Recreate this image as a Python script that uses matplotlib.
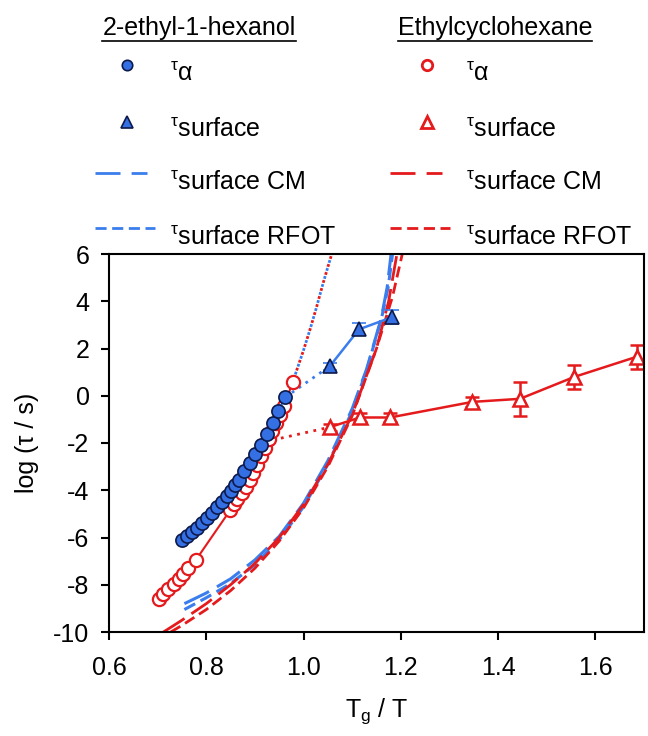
import matplotlib
matplotlib.use("Agg")
import matplotlib.pyplot as plt
from matplotlib.lines import Line2D

plt.rcParams["font.family"] = ["Liberation Sans", "DejaVu Sans"]
plt.rcParams["mathtext.fontset"] = "custom"
plt.rcParams["mathtext.rm"] = "Liberation Sans"
plt.rcParams["mathtext.it"] = "Liberation Sans"
plt.rcParams["mathtext.default"] = "regular"
plt.rcParams["axes.unicode_minus"] = False

BLUE = "#3470e4"
BLUE_EDGE = "#0d1a4a"
BLUE_LINE = "#3b7ded"
RED = "#e41a1c"

# 2-ethyl-1-hexanol, tau_alpha
eh_x = [0.750, 0.760, 0.770, 0.781, 0.791, 0.801, 0.812, 0.822, 0.832, 0.842,
        0.851, 0.859, 0.868, 0.878, 0.890, 0.900, 0.912, 0.924, 0.937, 0.948, 0.962]
eh_y = [-6.12, -5.95, -5.77, -5.58, -5.38, -5.16, -4.95, -4.71, -4.50, -4.25,
        -4.04, -3.79, -3.58, -3.19, -2.84, -2.47, -2.09, -1.63, -1.15, -0.64, -0.07]

# ethylcyclohexane, tau_alpha
ech_x = [0.702, 0.712, 0.722, 0.733, 0.743, 0.753, 0.763, 0.779,
         0.849, 0.856, 0.864, 0.873, 0.881, 0.889, 0.897, 0.904,
         0.912, 0.920, 0.928, 0.936, 0.944, 0.952, 0.960, 0.978]
ech_y = [-8.59, -8.38, -8.17, -7.95, -7.74, -7.53, -7.28, -6.94,
         -4.85, -4.59, -4.35, -4.11, -3.86, -3.58, -3.29, -2.94,
         -2.55, -2.20, -1.85, -1.50, -1.15, -0.80, -0.45, 0.60]

# tau_surface, 2-ethyl-1-hexanol
eh_s_x = [1.054, 1.114, 1.181]
eh_s_y = [1.25, 2.81, 3.32]
eh_s_err = [0.15, 0.25, 0.30]

# tau_surface, ethylcyclohexane
ech_s_x = [1.054, 1.116, 1.178, 1.347, 1.445, 1.557, 1.685]
ech_s_y = [-1.33, -0.92, -0.92, -0.26, -0.13, 0.80, 1.65]
ech_s_err = [0.15, 0.20, 0.20, 0.20, 0.72, 0.50, 0.50]

# extrapolated tau_alpha (dotted)
vft_x = [0.975, 0.986, 1.000, 1.014, 1.027, 1.040, 1.050, 1.058]
vft_y = [0.40, 1.08, 1.93, 2.85, 3.77, 4.75, 5.45, 6.00]

# model curves
eh_cm_x = [0.755, 0.800, 0.850, 0.900, 0.950, 1.000, 1.050, 1.100, 1.130, 1.160, 1.172, 1.180]
eh_cm_y = [-8.80, -8.35, -7.75, -6.95, -5.95, -4.55, -2.75, -0.55, 1.15, 3.30, 4.60, 6.00]
eh_rf_x = [0.755, 0.800, 0.850, 0.900, 0.950, 1.000, 1.050, 1.100, 1.130, 1.160, 1.174, 1.183]
eh_rf_y = [-9.05, -8.55, -7.95, -7.15, -6.10, -4.70, -2.90, -0.65, 1.10, 3.25, 4.60, 6.00]
ech_cm_x = [0.712, 0.750, 0.800, 0.850, 0.900, 0.950, 1.000, 1.050, 1.100, 1.150, 1.175, 1.192]
ech_cm_y = [-10.00, -9.50, -8.80, -8.00, -7.10, -6.00, -4.60, -2.90, -0.80, 2.00, 4.00, 6.00]
ech_rf_x = [0.727, 0.750, 0.800, 0.850, 0.900, 0.950, 1.000, 1.050, 1.100, 1.150, 1.183, 1.203]
ech_rf_y = [-10.00, -9.72, -9.05, -8.25, -7.30, -6.15, -4.75, -3.00, -0.85, 2.00, 4.20, 6.00]

FS = 18

fig = plt.figure(figsize=(6.48, 7.36), dpi=100)
ax = fig.add_axes([109 / 648, 104 / 736, 535 / 648, 378 / 736])

ax.plot(eh_cm_x, eh_cm_y, color=BLUE_LINE, lw=2.2, dashes=(9, 3))
ax.plot(eh_rf_x, eh_rf_y, color=BLUE_LINE, lw=2.2, dashes=(4, 2))
ax.plot(ech_cm_x, ech_cm_y, color=RED, lw=2, dashes=(9, 3))
ax.plot(ech_rf_x, ech_rf_y, color=RED, lw=2, dashes=(4, 2))

ax.plot(vft_x, vft_y, color=RED, lw=2, ls=(0, (1, 2)))
ax.plot(vft_x, vft_y, color=BLUE_LINE, lw=2, ls=(1.5, (1, 2)))
ax.plot([eh_x[-1], eh_s_x[0]], [eh_y[-1], eh_s_y[0]], color=BLUE_LINE, lw=2, ls=(0, (1, 2)))
ax.plot([ech_x[17], ech_s_x[0]], [-1.95, ech_s_y[0]], color=RED, lw=2, ls=(0, (1, 2)))

ax.plot(ech_x, ech_y, color=RED, lw=1.5, marker="o", ms=9.5, mfc="white",
        mec=RED, mew=1.6)
ax.plot(eh_x, eh_y, color=BLUE, lw=1.5, marker="o", ms=9.5, mfc=BLUE,
        mec=BLUE_EDGE, mew=1.2)

ax.errorbar(ech_s_x, ech_s_y, yerr=ech_s_err, color=RED, lw=1.8, marker="^",
            ms=10, mfc="white", mec=RED, mew=1.8, capsize=5, capthick=1.8)
ax.errorbar(eh_s_x, eh_s_y, yerr=eh_s_err, color=BLUE_LINE, lw=1.8, marker="^",
            ms=10, mfc=BLUE, mec=BLUE_EDGE, mew=1.2, capsize=5, capthick=1.8,
            ecolor=BLUE_LINE)

ax.set_xlim(0.6, 1.7)
ax.set_ylim(-10, 6)
ax.set_xticks([0.6, 0.8, 1.0, 1.2, 1.4, 1.6])
ax.set_xticklabels(["0.6", "0.8", "1.0", "1.2", "1.4", "1.6"])
ax.set_yticks(range(-10, 7, 2))
ax.tick_params(direction="out", length=6, width=1.5, labelsize=FS,
               top=False, right=False)
ax.tick_params(axis="x", pad=11)
ax.tick_params(axis="y", pad=8)
for s in ax.spines.values():
    s.set_linewidth(1.5)
ax.set_xlabel("T$_g$ / T", fontsize=FS, labelpad=12)
ax.set_ylabel("log (τ / s)", fontsize=FS, labelpad=10)


# legend drawn in pixel coordinates of the figure
def fx(px):
    return px / 648


def fy(py):
    return 1 - py / 736


headers = [("2-ethyl-1-hexanol", 199), ("Ethylcyclohexane", 495)]
head_texts = []
for label, cx in headers:
    t = fig.text(fx(cx), fy(35), label, fontsize=FS, ha="center", va="baseline")
    head_texts.append(t)

rows_mark = [65, 122, 173, 228]
rows_base = [81, 137, 190, 245]
labels = [r"$^{\tau}\alpha$", r"$^{\tau}$surface", r"$^{\tau}$surface CM",
          r"$^{\tau}$surface RFOT"]
for col, (mx, tx, lx0, lx1) in enumerate([(127, 170, 95, 147), (427, 466, 390, 442)]):
    if col == 0:
        circ = dict(mfc=BLUE, mec=BLUE_EDGE, mew=1.2)
        tri = dict(mfc=BLUE, mec=BLUE_EDGE, mew=1.2)
        lc = BLUE_LINE
    else:
        circ = dict(mfc="white", mec=RED, mew=2)
        tri = dict(mfc="white", mec=RED, mew=2)
        lc = RED
    fig.add_artist(Line2D([fx(mx)], [fy(rows_mark[0])], marker="o", ms=7.5, ls="none",
                          transform=fig.transFigure, **circ))
    fig.add_artist(Line2D([fx(mx)], [fy(rows_mark[1])], marker="^", ms=8.5, ls="none",
                          transform=fig.transFigure, **tri))
    fig.add_artist(Line2D([fx(lx0), fx(lx1)], [fy(rows_mark[2])] * 2, color=lc, lw=2,
                          dashes=(9, 4), transform=fig.transFigure))
    fig.add_artist(Line2D([fx(lx0), fx(lx1 + 8)], [fy(rows_mark[3])] * 2, color=lc, lw=2,
                          dashes=(4, 2), transform=fig.transFigure))
    for ry, lab in zip(rows_base, labels):
        fig.text(fx(tx), fy(ry), lab, fontsize=FS, ha="left", va="baseline")

fig.canvas.draw()
r = fig.canvas.get_renderer()
for t in head_texts:
    bb = t.get_window_extent(renderer=r)
    x0, x1 = bb.x0 / fig.bbox.width, bb.x1 / fig.bbox.width
    yb = (bb.y0 - 1) / fig.bbox.height
    fig.add_artist(Line2D([x0, x1], [yb, yb], color="black", lw=1.2,
                          transform=fig.transFigure))

fig.savefig("out.png", dpi=100)
